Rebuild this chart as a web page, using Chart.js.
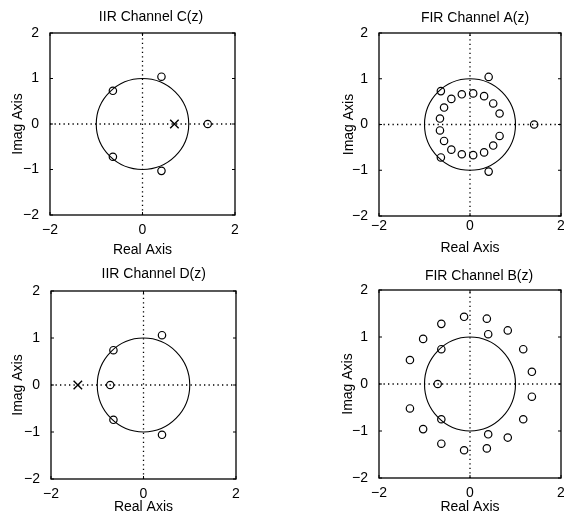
<!DOCTYPE html>
<html><head><meta charset="utf-8">
<script src="https://cdn.jsdelivr.net/npm/chart.js@4.4.1/dist/chart.umd.min.js"></script>
<style>
html,body{margin:0;padding:0;background:#fff;overflow:hidden;width:564px;height:514px;position:relative}
canvas{position:absolute}
</style></head><body>
<canvas id="c0" width="282" height="257" style="left:0px;top:0px"></canvas>
<canvas id="c1" width="300" height="257" style="left:282px;top:0px"></canvas>
<canvas id="c2" width="282" height="257" style="left:0px;top:257px"></canvas>
<canvas id="c3" width="300" height="257" style="left:282px;top:257px"></canvas>
<script>
// ---------- data ----------
const xTicks = [-2, 0, 2];
const yTicks = [-2, -1, 0, 1, 2];
const axisRange = [-2, 2];
const titles = ['IIR Channel C(z)', 'FIR Channel A(z)', 'IIR Channel D(z)', 'FIR Channel B(z)'];
const xLabel = 'Real Axis';
const yLabel = 'Imag Axis';
const unitRadius = 1;

const zerosC = [[0.41,1.04],[-0.64,0.73],[-0.64,-0.72],[0.41,-1.03],[1.41,0]];
const polesC = [[0.69,0]];

const zerosA = [[0.41,1.04],[-0.64,0.73],[-0.64,-0.72],[0.41,-1.03],[1.41,0],
  [0.07,0.68],[0.31,0.62],[0.51,0.46],[0.65,0.24],[0.65,-0.25],[0.51,-0.46],[0.31,-0.61],[0.07,-0.67],
  [-0.18,-0.65],[-0.41,-0.55],[-0.57,-0.36],[-0.66,-0.13],[-0.66,0.13],[-0.57,0.37],[-0.41,0.56],[-0.18,0.66]];
const polesA = [];

const zerosD = [[0.40,1.06],[-0.65,0.74],[-0.72,0],[-0.65,-0.74],[0.40,-1.06]];
const polesD = [[-1.42,0]];

const zerosB = [[-0.13,1.43],[0.37,1.39],[-0.63,1.28],[0.83,1.14],[-1.03,0.96],[0.40,1.06],[-0.63,0.74],
  [1.17,0.74],[-1.32,0.51],[1.36,0.26],[-0.71,0],[1.36,-0.27],[-1.32,-0.52],[-0.63,-0.75],[1.17,-0.75],
  [-1.03,-0.96],[0.40,-1.07],[0.83,-1.14],[-0.63,-1.27],[0.37,-1.37],[-0.13,-1.41]];
const polesB = [];

const zeroSets = [zerosC, zerosA, zerosD, zerosB];
const poleSets = [polesC, polesA, polesD, polesB];

// ---------- layout / style ----------
const panels = [
  {id:'c0', w:282, h:257, l:50, r:235, t:33, b:215, titleX:151, titleY:16.7, yTitleX:18.5, xTickY:229, xTitleY:248},
  {id:'c1', w:300, h:257, l:97, r:279, t:33, b:216, titleX:193, titleY:18, yTitleX:67.5, xTickY:225, xTitleY:246},
  {id:'c2', w:282, h:257, l:51, r:236, t:34, b:222, titleX:153.7, titleY:16.7, yTitleX:18.5, xTickY:236, xTitleY:248.5},
  {id:'c3', w:300, h:257, l:97, r:279, t:33, b:221, titleX:197, titleY:19, yTitleX:66.5, xTickY:235, xTitleY:248}
];
const FONT = {family:'"Liberation Sans", Arial, Helvetica, sans-serif', size:14};
const LH = FONT.size * 1.2;
const TICK_SHIFT = 6.5;

const fmt = v => (v < 0 ? '\u2212' + Math.abs(v) : String(v));
const toPts = arr => arr.map(p => ({x:p[0], y:p[1]}));

const framePlugin = {
  id:'frame',
  beforeDatasetsDraw(chart){
    const {ctx, scales:{x, y}} = chart;
    ctx.save();
    const cx = x.getPixelForValue(0), cy = y.getPixelForValue(0);
    const rx = x.getPixelForValue(unitRadius) - cx, ry = cy - y.getPixelForValue(unitRadius);
    ctx.strokeStyle = '#000'; ctx.lineWidth = 1.1;
    ctx.beginPath(); ctx.ellipse(cx, cy, rx, ry, 0, 0, Math.PI*2); ctx.stroke();
    ctx.restore();
  },
  afterDatasetsDraw(chart){
    const {ctx, chartArea:a, scales:{x, y}} = chart;
    const o = chart.options.plugins.frame;
    ctx.save();
    ctx.strokeStyle = '#000'; ctx.lineWidth = 1.3;
    ctx.strokeRect(a.left, a.top, a.right - a.left, a.bottom - a.top);
    ctx.lineWidth = 1;
    ctx.beginPath();
    xTicks.forEach(v => { const px = x.getPixelForValue(v);
      ctx.moveTo(px, a.bottom); ctx.lineTo(px, a.bottom - 3);
      ctx.moveTo(px, a.top); ctx.lineTo(px, a.top + 3); });
    yTicks.forEach(v => { const py = y.getPixelForValue(v);
      ctx.moveTo(a.left, py); ctx.lineTo(a.left + 3, py);
      ctx.moveTo(a.right, py); ctx.lineTo(a.right - 3, py); });
    ctx.stroke();
    ctx.fillStyle = '#000';
    ctx.font = FONT.size + 'px ' + FONT.family;
    ctx.textAlign = 'center'; ctx.textBaseline = 'middle';
    ctx.fillText(o.text, o.tx, o.ty);
    ctx.restore();
  }
};

panels.forEach((p, i) => {
  const datasets = [
    {data:[{x:axisRange[0], y:0},{x:axisRange[1], y:0}], showLine:true, borderColor:'#000', borderWidth:1.3, borderDash:[1.3,3.2], pointRadius:0},
    {data:[{x:0, y:axisRange[0]},{x:0, y:axisRange[1]}], showLine:true, borderColor:'#000', borderWidth:1.3, borderDash:[1.3,3.2], pointRadius:0},
    {data:toPts(zeroSets[i]), pointStyle:'circle', pointRadius:3.7, borderColor:'#000', borderWidth:1.2, backgroundColor:'rgba(0,0,0,0)', showLine:false},
    {data:toPts(poleSets[i]), pointStyle:'crossRot', pointRadius:6, borderColor:'#000', borderWidth:1.4, showLine:false}
  ];
  new Chart(document.getElementById(p.id), {
    type:'scatter',
    data:{datasets},
    plugins:[framePlugin],
    options:{
      responsive:false, animation:false, devicePixelRatio:1,
      layout:{padding:{left:0, right:p.w - p.r, top:p.t, bottom:0}},
      plugins:{legend:{display:false}, tooltip:{enabled:false},
        frame:{text:titles[i], tx:p.titleX, ty:p.titleY}},
      scales:{
        x:{type:'linear', min:axisRange[0], max:axisRange[1],
          afterBuildTicks:s => { s.ticks = xTicks.map(v => ({value:v})); },
          afterFit:s => { s.height = p.h - p.b; },
          grid:{display:false}, border:{display:false},
          ticks:{color:'#000', font:FONT, padding:p.xTickY - p.b - LH/2 - TICK_SHIFT, maxRotation:0, autoSkip:false, callback:fmt},
          title:{display:true, text:xLabel, color:'#000', font:FONT, padding:{top:0, bottom:p.h - p.xTitleY - LH/2 - 2}}
        },
        y:{type:'linear', min:axisRange[0], max:axisRange[1],
          afterBuildTicks:s => { s.ticks = yTicks.map(v => ({value:v})); },
          afterFit:s => { s.width = p.l; },
          grid:{display:false}, border:{display:false},
          ticks:{color:'#000', font:FONT, padding:3, autoSkip:false, callback:fmt},
          title:{display:true, text:yLabel, color:'#000', font:FONT, padding:{top:p.yTitleX - LH/2, bottom:0}}
        }
      }
    }
  });
});
</script>
</body></html>
